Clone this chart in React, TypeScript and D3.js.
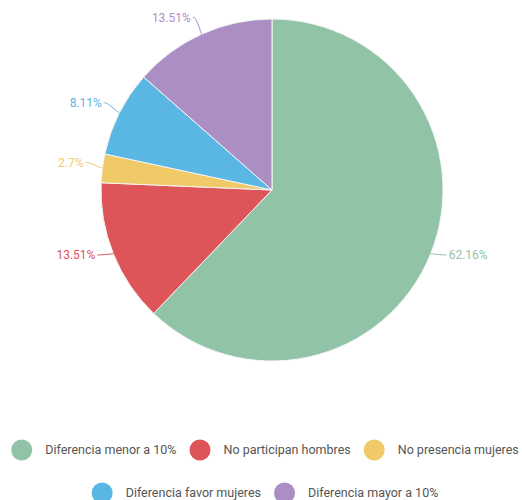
import * as d3 from "d3";
import { useEffect, useRef } from "react";

const categories = [
  "Diferencia menor a 10%",
  "No participan hombres",
  "No presencia mujeres",
  "Diferencia favor mujeres",
  "Diferencia mayor a 10%",
];
const counts = [23, 5, 1, 3, 5];
const labels = ["62.16%", "13.51%", "2.7%", "8.11%", "13.51%"];
const colors = ["#91c3a7", "#dd5459", "#f0ca67", "#5ab7e3", "#ab8fc4"];

const W = 522;
const H = 500;

function App() {
  const ref = useRef<SVGSVGElement | null>(null);

  useEffect(() => {
    const svg = d3.select(ref.current);
    svg.selectAll("*").remove();

    const cx = 272;
    const cy = 190;
    const r = 171;

    const pie = d3
      .pie<number>()
      .sort(null)
      .value((d) => d);
    const arcs = pie(counts);
    const arc = d3.arc<d3.PieArcDatum<number>>().innerRadius(0).outerRadius(r);

    const g = svg.append("g").attr("transform", `translate(${cx},${cy})`);

    g.selectAll(".slice")
      .data(arcs)
      .join("path")
      .attr("class", "slice")
      .attr("d", arc)
      .attr("fill", (_, i) => colors[i])
      .attr("stroke", "#f4f4f4")
      .attr("stroke-width", 1);

    // labels with leader lines
    const len1 = 14;
    const len2 = 3;
    arcs.forEach((a, i) => {
      const mid = (a.startAngle + a.endAngle) / 2;
      const sx = Math.sin(mid);
      const sy = -Math.cos(mid);
      const p1: [number, number] = [sx * r, sy * r];
      const p2: [number, number] = [sx * (r + len1), sy * (r + len1) - 4];
      const side = sx >= 0 ? 1 : -1;
      const p3: [number, number] = [p2[0] + side * len2, p2[1]];
      g.append("path")
        .attr("d", d3.line().curve(d3.curveBasis)([p1, p2, p3]) as string)
        .attr("fill", "none")
        .attr("stroke", colors[i])
        .attr("stroke-width", 1);
      g.append("text")
        .attr("x", p3[0] + side * 2)
        .attr("y", p3[1])
        .attr("dy", "0.35em")
        .attr("text-anchor", side > 0 ? "start" : "end")
        .attr("fill", colors[i])
        .style("font-family", "Roboto, sans-serif")
        .style("font-size", "12px")
        .text(labels[i]);
    });

    // legend
    const fontSize = 12.5;
    const dot = 21;
    const gapDot = 13;
    const gapItem = 13;
    const rows: number[][] = [[0, 1, 2], [3, 4]];
    const rowY = [450, 493];
    const centerX = 265;

    const legend = svg.append("g").attr("class", "legend");
    rows.forEach((row, ri) => {
      const items = row.map((i) => {
        const item = legend.append("g");
        item
          .append("circle")
          .attr("cx", dot / 2)
          .attr("cy", rowY[ri])
          .attr("r", dot / 2)
          .attr("fill", colors[i]);
        const t = item
          .append("text")
          .attr("x", dot + gapDot)
          .attr("y", rowY[ri])
          .attr("dy", "0.35em")
          .attr("fill", "#555")
          .style("font-family", "Roboto, sans-serif")
          .style("font-size", `${fontSize}px`)
          .text(categories[i]);
        const w = dot + gapDot + (t.node() as SVGTextElement).getComputedTextLength();
        return { item, w };
      });
      const total = items.reduce((s, d) => s + d.w, 0) + gapItem * (items.length - 1);
      let x = centerX - total / 2;
      items.forEach((d) => {
        d.item.attr("transform", `translate(${x},0)`);
        x += d.w + gapItem;
      });
    });
  }, []);

  return (
    <svg
      ref={ref}
      width={W}
      height={H}
      style={{ position: "absolute", left: 0, top: 0, display: "block", background: "#fff" }}
    ></svg>
  );
}

export default App;
